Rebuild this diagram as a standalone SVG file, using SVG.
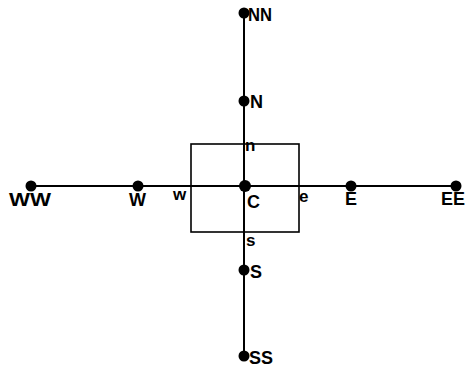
<svg xmlns="http://www.w3.org/2000/svg" width="467" height="368" viewBox="0 0 467 368">
<style>
.ln{stroke:#000;stroke-width:2;fill:none}
.box{stroke:#000;stroke-width:1.6;fill:none}
.dot{fill:#000}
text{font-family:"Liberation Sans",Arial,sans-serif;font-size:18px;fill:#000;font-weight:bold}
.sm{font-size:17px}
</style>
<rect x="191" y="144" width="108" height="88" class="box"/>
<g id="connectors">
<line x1="244" y1="13" x2="244" y2="356" class="ln"/>
<line x1="30" y1="186" x2="457" y2="186" class="ln"/>
</g>
<g id="NN"><circle cx="244" cy="13" r="5.5" class="dot"/><text x="248" y="21" textLength="24" lengthAdjust="spacingAndGlyphs">NN</text></g>
<g id="N"><circle cx="244" cy="101" r="5.5" class="dot"/><text x="250" y="108">N</text></g>
<g id="n"><text x="245" y="151" class="sm">n</text></g>
<g id="WW"><circle cx="31" cy="186" r="5.5" class="dot"/><text x="9" y="206" textLength="42" lengthAdjust="spacingAndGlyphs">WW</text></g>
<g id="W"><circle cx="138" cy="186" r="5.5" class="dot"/><text x="129" y="206">W</text></g>
<g id="w"><text x="173" y="200" class="sm">w</text></g>
<g id="C"><circle cx="245" cy="186" r="6" class="dot"/><text x="247" y="208">C</text></g>
<g id="e"><text x="299" y="202" class="sm">e</text></g>
<g id="E"><circle cx="351" cy="186" r="5.5" class="dot"/><text x="345" y="205">E</text></g>
<g id="EE"><circle cx="456" cy="186" r="5.5" class="dot"/><text x="441" y="205">EE</text></g>
<g id="s"><text x="246" y="246" class="sm">s</text></g>
<g id="S"><circle cx="244" cy="270" r="5.5" class="dot"/><text x="250" y="278">S</text></g>
<g id="SS"><circle cx="244" cy="356" r="5.5" class="dot"/><text x="249" y="364">SS</text></g>
</svg>
